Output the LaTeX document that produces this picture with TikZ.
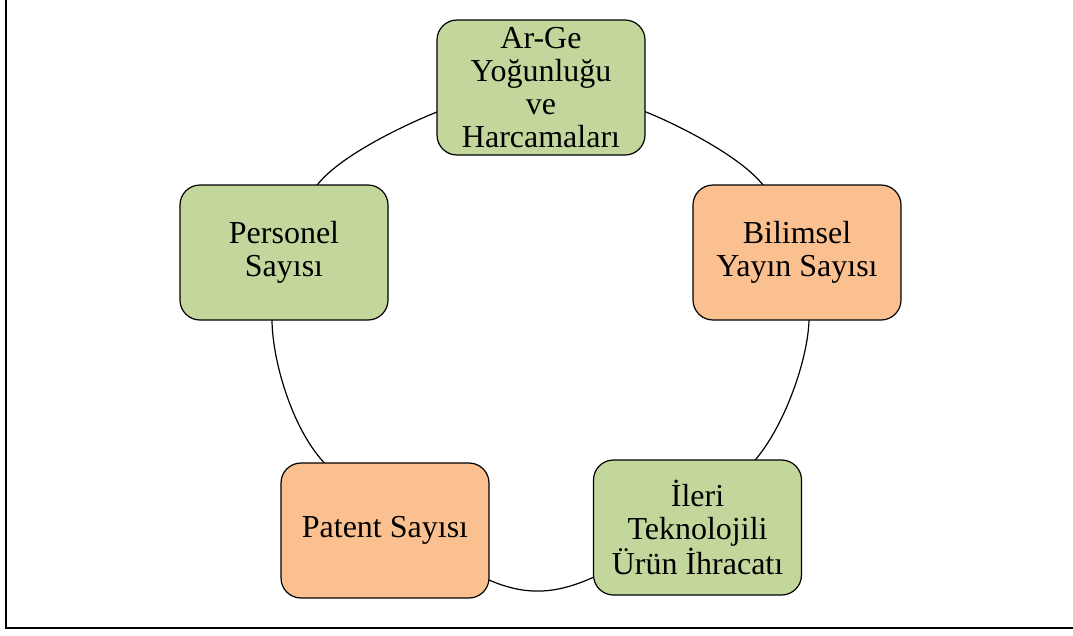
\documentclass[tikz,border=0pt]{standalone}
\usepackage{fontspec}
\setmainfont{Liberation Serif}
\usepackage{xcolor}
\usetikzlibrary{calc, positioning}
\pgfdeclarelayer{bg}
\pgfsetlayers{bg,main}
\definecolor{boxgreen}{RGB}{195,214,155}
\definecolor{boxorange}{RGB}{250,192,144}
\tikzset{
  cyclebox/.style={draw, line width=1.2, rounded corners=20, minimum width=208, minimum height=135, inner sep=0, align=center, font=\fontsize{32}{33}\selectfont},
  greenbox/.style={cyclebox, fill=boxgreen},
  orangebox/.style={cyclebox, fill=boxorange}
}

\begin{document}
\begin{tikzpicture}[x=1pt, y=-1pt]
\useasboundingbox (0,0) rectangle (1073,635);
% frame %
\draw[line width=1.8] (6,0) -- (6,628) -- (1073,628);
% nodes %
\node[greenbox] (arge) at (541,87.5) {Ar-Ge\\Yoğunluğu\\ve\\Harcamaları};
\node[orangebox] (bilimsel) at (797,252.5) {Bilimsel\\Yayın Sayısı};
\node[greenbox] (ileri) at (697.5,527.5) {İleri\\Teknolojili\\Ürün İhracatı};
\node[orangebox] (patent) at (385,530.5) {Patent Sayısı};
\node[greenbox] (personel) at (284,252.5) {Personel\\Sayısı};
% ring %
\begin{pgfonlayer}{bg}
\draw[line width=1.2] plot[smooth cycle, tension=0.5] coordinates {
  (541,96) (646,112) (763,185) (809,320) (756,459)
  (594,577) (489,580) (320,458) (272,320) (318,184) (437,112)};
\end{pgfonlayer}
\end{tikzpicture}
\end{document}
